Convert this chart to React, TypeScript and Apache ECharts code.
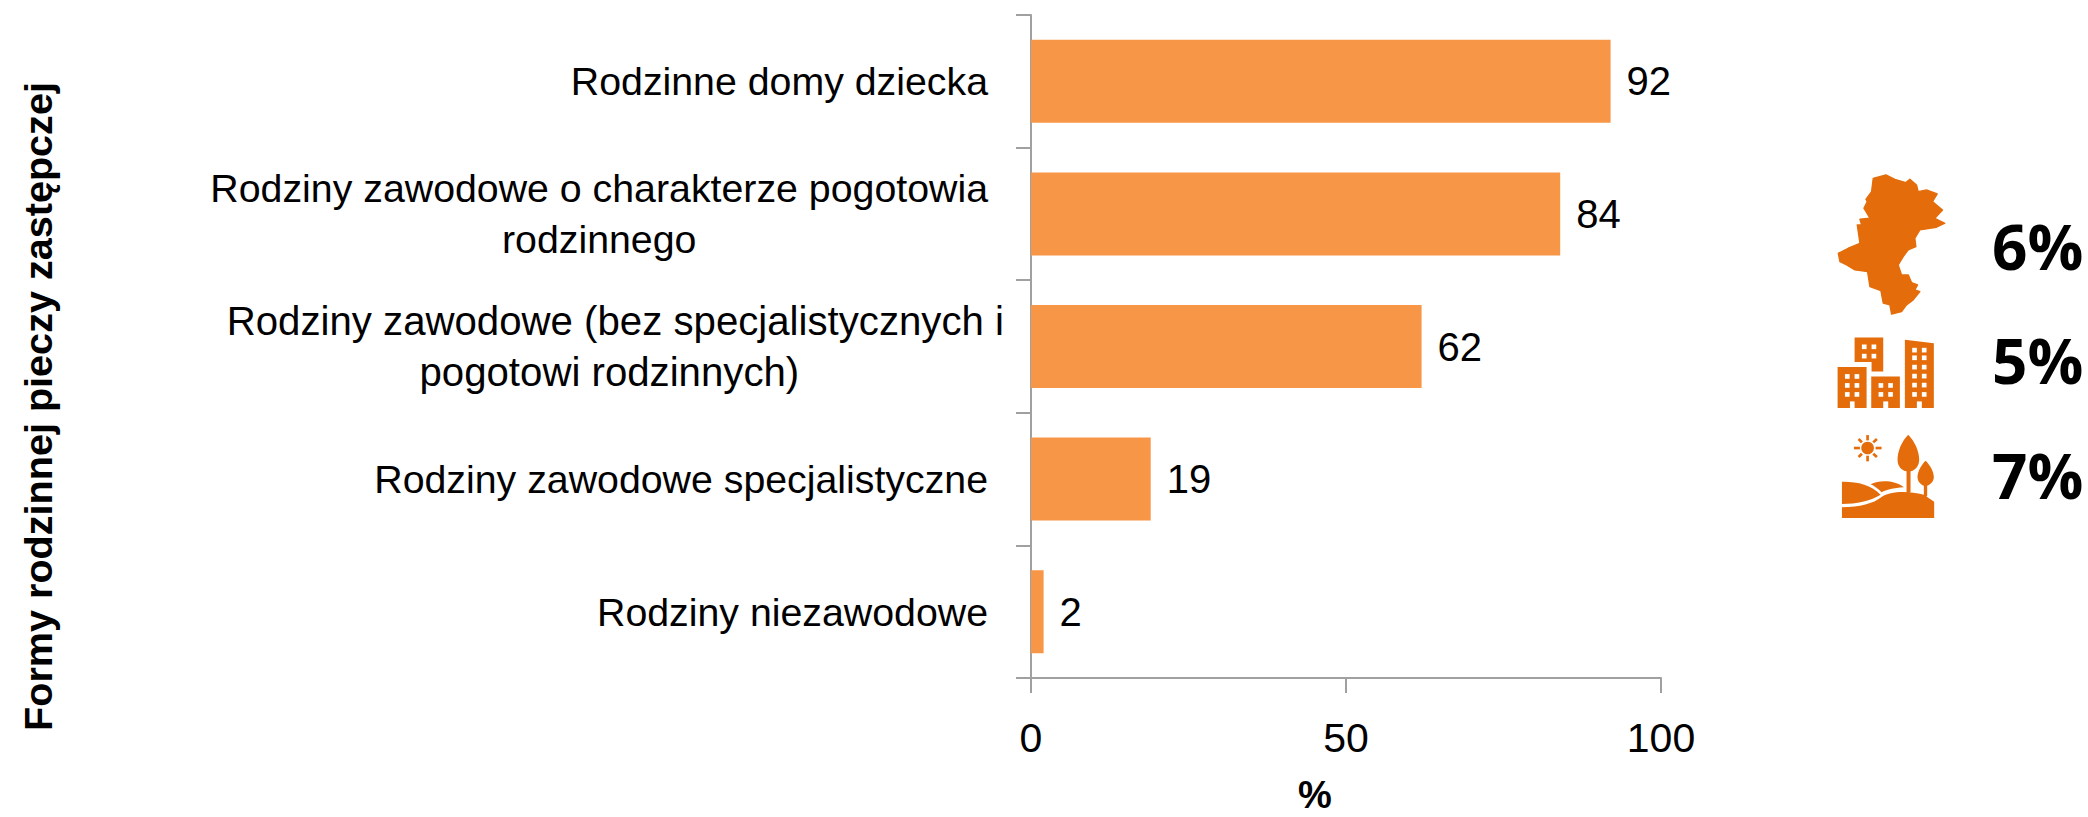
import React, { useEffect, useRef } from "react";
import * as echarts from "echarts";

const categories = [
  "Rodzinne domy dziecka",
  "Rodziny zawodowe o charakterze pogotowia\nrodzinnego",
  "Rodziny zawodowe (bez specjalistycznych i\npogotowi rodzinnych)",
  "Rodziny zawodowe specjalistyczne",
  "Rodziny niezawodowe",
];
const values = [92, 84, 62, 19, 2];
const xTicks = [0, 50, 100];
const sideLabels = ["6%", "5%", "7%"];

const FONT = '"Liberation Sans Narrow", "Liberation Sans", sans-serif';
const ICON = "#E46C0A";

const silesia = [[280,85],[318,75],[345,88],[378,98],[390,88],[410,105],[415,125],[440,120],[472,132],[458,155],[470,165],[488,180],[465,205],[495,220],[470,232],[420,240],[405,265],[408,290],[385,300],[370,320],[355,345],[365,375],[385,375],[395,398],[413,405],[405,420],[420,425],[400,450],[380,465],[365,485],[335,493],[330,465],[310,460],[303,422],[270,410],[263,365],[225,360],[200,345],[180,335],[175,310],[205,295],[240,280],[232,225],[245,225],[240,208],[270,205],[252,175],[262,155],[258,148],[275,125]];
const landscapePath = "M186 996C230 995 275 1005 302 1035C270 1055 230 1062 186 1063ZM272 1004C300 990 345 992 372 1013C340 1015 320 1020 305 1028C295 1018 285 1010 272 1004ZM186 1073C240 1072 280 1062 305 1042C330 1025 380 1022 432 1035L463 1056L463 1105L186 1105ZM385 855C405 875 418 905 418 930C418 950 405 962 392 965L392 1028L380 1028L380 965C365 962 353 950 353 930C353 905 365 875 385 855ZM437 933C450 945 462 965 462 982C462 995 452 1005 442 1008L442 1040L432 1040L432 1008C422 1005 413 995 413 982C413 965 425 945 437 933Z";
echarts.graphic.registerShape("landscape", echarts.graphic.extendPath(landscapePath, {}));

function iconElements() {
  const els: any[] = [];
  const r = (x1: number, y1: number, x2: number, y2: number, fill: string) => ({
    type: "rect", shape: { x: x1, y: y1, width: x2 - x1, height: y2 - y1 }, style: { fill },
  });
  const poly = (points: number[][], fill: string) => ({ type: "polygon", shape: { points }, style: { fill } });
  els.push({ type: "polygon", shape: { points: silesia }, style: { fill: ICON, stroke: ICON, lineWidth: 4, lineJoin: "round" } });
  els.push(poly([[224,563],[310,563],[310,665],[275,665],[275,637],[224,637]], ICON));
  els.push(r(173,652,260,775,ICON), r(274,680,360,775,ICON));
  els.push(poly([[375,570],[462,580],[462,775],[375,775]], ICON));
  const windows = (xs: number[], ys: number[]) => {
    xs.forEach((x) => ys.forEach((y) => els.push(r(x, y, x + 14, y + 14, "#fff"))));
  };
  windows([195,224],[673,700,727]);
  windows([246,275],[584,612]);
  windows([296,325],[700,727]);
  windows([397,426],[594,617,645,672,699,727]);
  els.push(r(210,755,224,775,"#fff"), r(310,755,325,775,"#fff"), r(411,755,426,775,"#fff"));
  els.push({ type: "landscape", style: { fill: ICON } });
  els.push({ type: "circle", shape: { cx: 263, cy: 895, r: 19 }, style: { fill: ICON } });
  [[263,856,263,872],[263,918,263,935],[222,895,240,895],[287,895,305,895],[236,868,246,878],[280,912,291,922],[236,922,246,912],[280,878,291,868]].forEach(([x1,y1,x2,y2]) =>
    els.push({ type: "line", shape: { x1, y1, x2, y2 }, style: { stroke: ICON, lineWidth: 8 } })
  );
  return els;
}

export default function App() {
  const ref = useRef<HTMLDivElement>(null);
  useEffect(() => {
    document.body.style.margin = "0";
    const chart = echarts.init(ref.current!, null, { renderer: "svg" });
    const lineStyle = { color: "#A0A0A0", width: 2 };
    const labelBase = { align: "center", fontFamily: FONT, lineHeight: 51, color: "#000" };
    chart.setOption({
      animation: false,
      backgroundColor: "#fff",
      grid: { left: 1031, width: 630, top: 15, height: 663, outerBoundsMode: "none" },
      xAxis: {
        type: "value", min: xTicks[0], max: xTicks[2], interval: xTicks[1],
        name: "%", nameLocation: "middle", nameGap: 98,
        nameTextStyle: { fontFamily: FONT, fontSize: 38, fontWeight: "bold", color: "#000", padding: [0, 62, 0, 0] },
        axisLine: { show: true, lineStyle },
        axisTick: { show: true, length: 15, lineStyle },
        splitLine: { show: false },
        axisLabel: { fontFamily: FONT, fontSize: 41, color: "#000", margin: 39 },
      },
      yAxis: {
        type: "category", inverse: true,
        data: categories.map((value, i) => (i === 2 ? { value, textStyle: { padding: [0, -16, 0, 0] } } : value)),
        name: "Formy rodzinnej pieczy zastępczej", nameLocation: "middle", nameGap: 973, nameRotate: 90,
        nameTextStyle: { fontFamily: FONT, fontSize: 39.6, fontWeight: "bold", color: "#000", padding: [0, 120, 0, 0] },
        axisLine: { show: true, lineStyle },
        axisTick: { show: true, length: 15, lineStyle },
        axisLabel: {
          margin: 43, color: "#000", fontFamily: FONT, fontSize: 39.3, lineHeight: 51,
          formatter: (v: string, i: number) =>
            v.split("\n").map((l, k) => (i === 2 ? `{${k === 0 ? "b" : "d"}|${l}}` : `{c|${l}}`)).join("\n"),
          rich: {
            c: { ...labelBase, fontSize: 39.3 },
            b: { ...labelBase, fontSize: 40.2 },
            d: { ...labelBase, fontSize: 40.2, padding: [0, 12, 0, 0] },
          },
        },
      },
      series: [{
        type: "bar", data: values, barWidth: 83,
        itemStyle: { color: "#F79646" },
        label: { show: true, position: "right", distance: 16, fontFamily: FONT, fontSize: 40, color: "#000" },
      }],
      graphic: [
        { type: "group", x: 1780, y: 150, scaleX: 1 / 3, scaleY: 1 / 3, children: iconElements() },
        ...sideLabels.map((t, i) => ({
          type: "text", x: 1992, y: [246, 360, 475][i],
          style: { text: t, fontFamily: '"Open Sans", sans-serif', fontWeight: "bold", fontSize: 62, fill: "#000", textVerticalAlign: "middle" },
        })),
      ],
    });
    return () => chart.dispose();
  }, []);
  return <div ref={ref} style={{ position: "absolute", left: 0, top: 0, width: 2088, height: 817 }} />;
}
